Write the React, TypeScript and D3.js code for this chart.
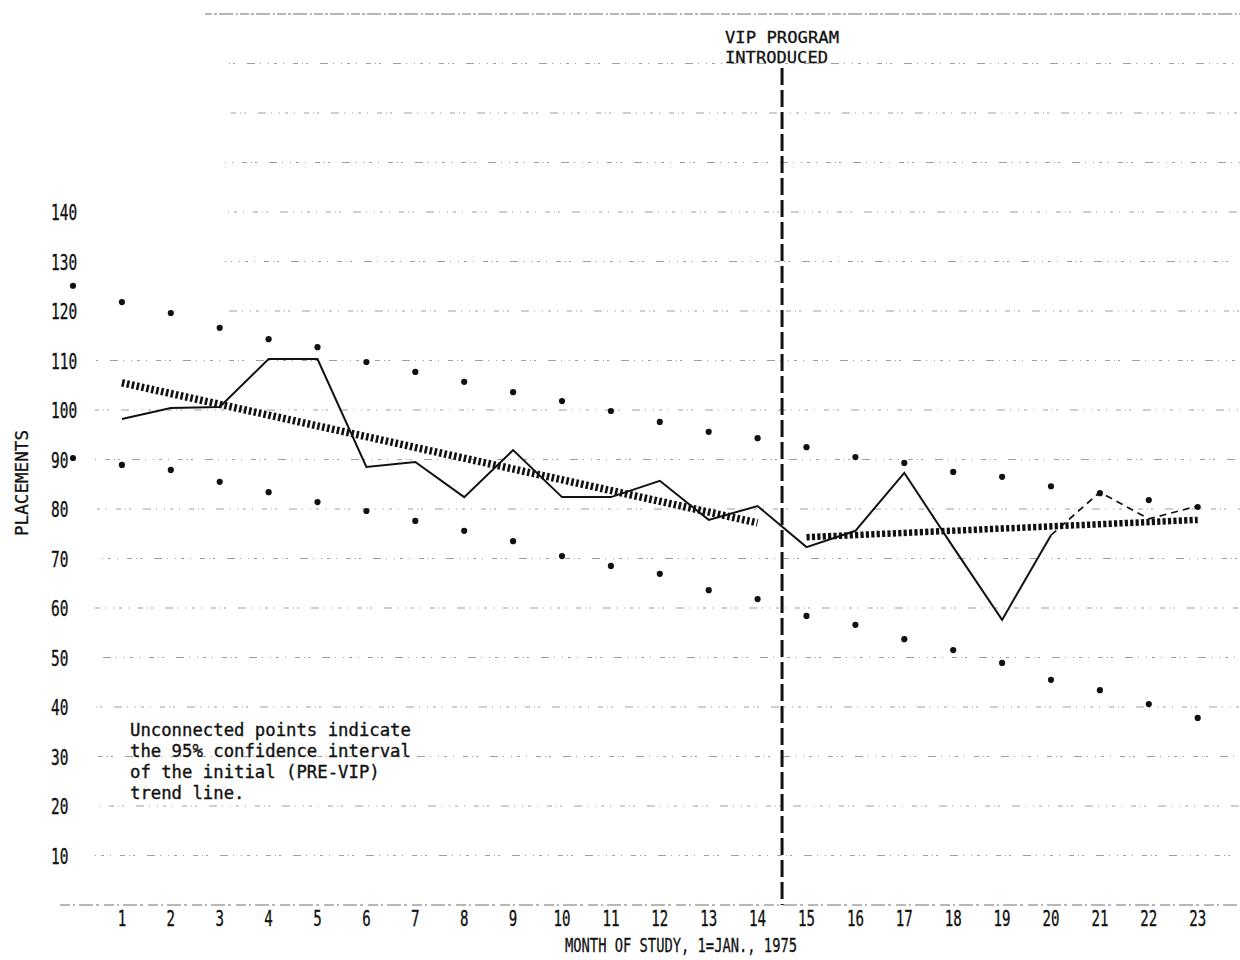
import React from "react";
import * as d3 from "d3";

// Monthly placements, month 1 = Jan 1975
const months = d3.range(1, 24);
const actualMonths = d3.range(1, 21);
const actualPlacements = [
  98.2, 100.4, 100.6, 110.3, 110.3, 88.5, 89.5, 82.4, 91.9, 82.4,
  82.4, 85.7, 77.8, 80.6, 72.3, 75.6, 87.3, 72.3, 57.6, 74.7,
];
// later months shown with a dashed segment
const provisionalMonths = [20, 21, 22, 23];
const provisionalPlacements = [74.7, 83.4, 78.0, 80.6];

// fitted trend lines (end points)
const preTrendMonths = [1, 14];
const preTrendValues = [105.5, 77.2];
const postTrendMonths = [15, 23];
const postTrendValues = [74.3, 77.8];

// 95% confidence band of the pre-VIP trend, months 0..23
const ciMonths = d3.range(0, 24);
const ciUpper = [
  125.1, 121.8, 119.6, 116.6, 114.3, 112.7, 109.7, 107.7, 105.7, 103.6,
  101.8, 99.8, 97.6, 95.6, 94.3, 92.5, 90.5, 89.3, 87.5, 86.5,
  84.6, 83.2, 81.8, 80.4,
];
const ciLower = [
  90.3, 88.9, 87.9, 85.5, 83.4, 81.4, 79.6, 77.6, 75.6, 73.5,
  70.5, 68.5, 66.9, 63.6, 61.8, 58.4, 56.6, 53.7, 51.5, 48.9,
  45.5, 43.4, 40.6, 37.8,
];

const yTickValues = [10, 20, 30, 40, 50, 60, 70, 80, 90, 100, 110, 120, 130, 140];
const gridValues = d3.range(10, 190, 10);
const vipMonth = 14.5;

const noteLines = [
  "Unconnected points indicate",
  "the 95% confidence interval",
  "of the initial (PRE-VIP)",
  "trend line.",
];

const W = 1240;
const H = 960;
const MONO = "'DejaVu Sans Mono', 'Liberation Mono', monospace";
const INK = "#111";

export default function App() {
  const x = d3.scaleLinear().domain([0, 23]).range([73, 73 + 48.9 * 23]);
  const y = d3.scaleLinear().domain([0, 140]).range([905, 905 - 4.95 * 140]);

  const line = d3
    .line<[number, number]>()
    .x((d) => x(d[0]))
    .y((d) => y(d[1]));

  const actualPath = line(actualMonths.map((m, i) => [m, actualPlacements[i]]));
  const provisionalPath = line(provisionalMonths.map((m, i) => [m, provisionalPlacements[i]]));
  const prePath = line(preTrendMonths.map((m, i) => [m, preTrendValues[i]]));
  const postPath = line(postTrendMonths.map((m, i) => [m, postTrendValues[i]]));

  const gridDash = "1 5 3 6 1 9 5 4 1 3 2 12 8 5 1 7";

  return (
    <svg
      width={W}
      height={H}
      viewBox={`0 0 ${W} ${H}`}
      style={{ position: "absolute", left: 0, top: 0, background: "#fff" }}
    >
      <rect x={0} y={0} width={W} height={H} fill="#fff" />

      {/* horizontal grid */}
      <g stroke="#444" strokeWidth={1} fill="none" opacity={0.5}>
        {gridValues.map((v, i) => {
          const top = v === 180;
          const x0 = v >= 120 ? 225 : 95;
          return (
            <line
              key={v}
              x1={top ? 205 : x0}
              x2={W}
              y1={y(v)}
              y2={y(v)}
              strokeDasharray={top ? "9 2 3 2 14 3 2 2" : gridDash}
              strokeDashoffset={i * 11}
              strokeWidth={top ? 1.5 : 1.1}
            />
          );
        })}
        <line
          x1={60}
          x2={W}
          y1={y(0)}
          y2={y(0)}
          strokeDasharray="10 3 2 4 14 3 3 5"
          strokeWidth={1.4}
        />
      </g>

      {/* y tick labels */}
      <g fontFamily={MONO} fontSize={21} fill={INK} stroke={INK} strokeWidth={0.35}>
        {yTickValues.map((v) => {
          const s = String(v);
          return (
            <text
              key={v}
              x={51}
              y={y(v) + 8}
              textLength={8.7 * s.length}
              lengthAdjust="spacingAndGlyphs"
            >
              {s}
            </text>
          );
        })}
      </g>

      {/* x tick labels */}
      <g fontFamily={MONO} fontSize={21} fill={INK} stroke={INK} strokeWidth={0.35} textAnchor="middle">
        {months.map((m) => {
          const s = String(m);
          return (
            <text
              key={m}
              x={x(m)}
              y={926}
              textLength={8.5 * s.length}
              lengthAdjust="spacingAndGlyphs"
            >
              {s}
            </text>
          );
        })}
      </g>

      {/* axis titles */}
      <text
        x={565}
        y={952}
        fontFamily={MONO}
        fontSize={19}
        fill={INK}
        stroke={INK}
        strokeWidth={0.3}
        textLength={232}
        lengthAdjust="spacingAndGlyphs"
      >
        MONTH OF STUDY, 1=JAN., 1975
      </text>
      <text
        transform={`translate(28, ${536}) rotate(-90)`}
        fontFamily={MONO}
        fontSize={17}
        fill={INK}
        stroke={INK}
        strokeWidth={0.3}
        textLength={106}
        lengthAdjust="spacingAndGlyphs"
      >
        PLACEMENTS
      </text>

      {/* program start marker */}
      <line
        x1={x(vipMonth)}
        x2={x(vipMonth)}
        y1={68}
        y2={y(0)}
        stroke={INK}
        strokeWidth={3}
        strokeDasharray="17 5"
      />
      <g fontFamily={MONO} fontSize={16.5} fill={INK} stroke={INK} strokeWidth={0.3}>
        <text x={725} y={43} textLength={114} lengthAdjust="spacingAndGlyphs">
          VIP PROGRAM
        </text>
        <text x={725} y={63} textLength={103} lengthAdjust="spacingAndGlyphs">
          INTRODUCED
        </text>
      </g>

      {/* confidence band points */}
      <g fill={INK}>
        {ciMonths.map((m, i) => (
          <g key={m}>
            <circle cx={x(m)} cy={y(ciUpper[i])} r={3.1} />
            <circle cx={x(m)} cy={y(ciLower[i])} r={3.1} />
          </g>
        ))}
      </g>

      {/* trend lines */}
      <path d={prePath ?? ""} fill="none" stroke={INK} strokeWidth={7.5} strokeDasharray="2.6 2.4" />
      <path d={postPath ?? ""} fill="none" stroke={INK} strokeWidth={6.5} strokeDasharray="3.2 2.2" />

      {/* monthly placements */}
      <path d={actualPath ?? ""} fill="none" stroke={INK} strokeWidth={2} strokeLinejoin="miter" />
      <path d={provisionalPath ?? ""} fill="none" stroke={INK} strokeWidth={1.7} strokeDasharray="7 5" />

      {/* note */}
      <g fontFamily={MONO} fontSize={17.3} fill={INK} stroke={INK} strokeWidth={0.35}>
        {noteLines.map((t, i) => (
          <text key={i} x={130} y={736 + i * 21} style={{ whiteSpace: "pre" }}>
            {t}
          </text>
        ))}
      </g>
    </svg>
  );
}
